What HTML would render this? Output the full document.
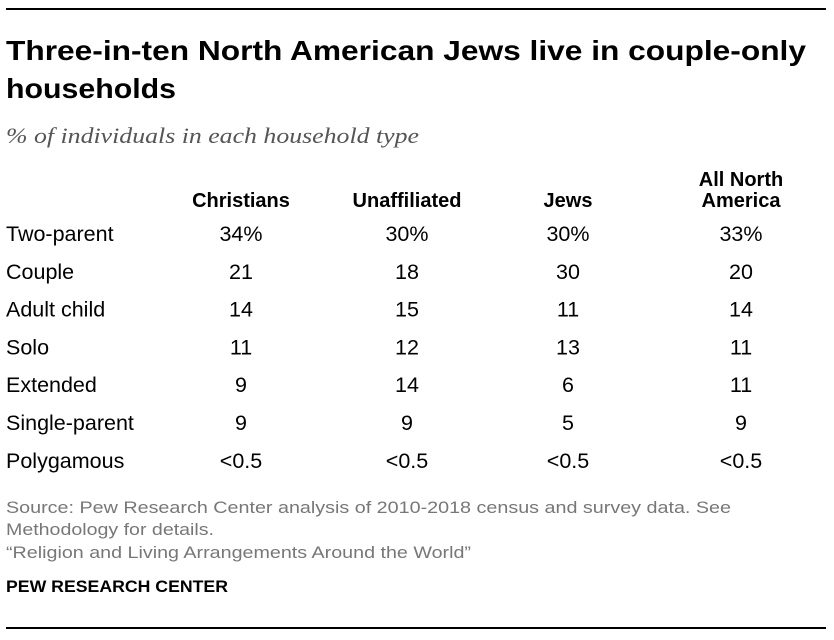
<!DOCTYPE html>
<html><head><meta charset="utf-8"><style>
html,body{margin:0;padding:0;background:#fff;width:834px;height:640px;overflow:hidden}
svg{display:block}
text{font-family:"Liberation Sans",sans-serif}
</style></head><body>
<svg id="chart" width="834" height="640" xmlns="http://www.w3.org/2000/svg">
<line x1="6" y1="9" x2="826" y2="9" stroke="#000" stroke-width="2"/>
<text x="6" y="60" font-size="28" font-weight="bold" fill="#000" textLength="800" lengthAdjust="spacingAndGlyphs">Three-in-ten North American Jews live in couple-only</text>
<text x="6" y="98" font-size="28" font-weight="bold" fill="#000" textLength="170" lengthAdjust="spacingAndGlyphs">households</text>
<text x="6" y="143" font-size="22" font-style="italic" fill="#555" style="font-family:'Liberation Serif',serif" textLength="413" lengthAdjust="spacingAndGlyphs">% of individuals in each household type</text>
<g id="hdr"></g>
<g id="rows"></g>
<text x="6" y="513" font-size="17" fill="#777" textLength="725" lengthAdjust="spacingAndGlyphs">Source: Pew Research Center analysis of 2010-2018 census and survey data. See</text>
<text x="6" y="535" font-size="17" fill="#777" textLength="208" lengthAdjust="spacingAndGlyphs">Methodology for details.</text>
<text x="6" y="558" font-size="17" fill="#777" textLength="465" lengthAdjust="spacingAndGlyphs">“Religion and Living Arrangements Around the World”</text>
<text x="6" y="592" font-size="17" font-weight="bold" fill="#000" textLength="222" lengthAdjust="spacingAndGlyphs">PEW RESEARCH CENTER</text>
<line x1="6" y1="628" x2="826" y2="628" stroke="#000" stroke-width="2"/>
</svg>
<script>
const columns = [["Christians"],["Unaffiliated"],["Jews"],["All North","America"]];
const categories = ["Two-parent","Couple","Adult child","Solo","Extended","Single-parent","Polygamous"];
const christians = ["34%","21","14","11","9","9","<0.5"];
const unaffiliated = ["30%","18","15","12","14","9","<0.5"];
const jews = ["30%","30","11","13","6","5","<0.5"];
const allNorthAmerica = ["33%","20","14","11","11","9","<0.5"];
const series = [christians, unaffiliated, jews, allNorthAmerica];
const NS = "http://www.w3.org/2000/svg";
const colX = i => [241, 407, 568, 741][i];
const rowY = i => 241 + i * 37.8;
function mk(parent, x, y, s, anchor, size, weight){
  const t = document.createElementNS(NS, "text");
  t.setAttribute("x", x); t.setAttribute("y", y);
  t.setAttribute("font-size", size);
  t.setAttribute("text-anchor", anchor);
  if (weight) t.setAttribute("font-weight", weight);
  t.setAttribute("fill", "#000");
  t.textContent = s;
  parent.appendChild(t);
  return t;
}
const hdr = document.getElementById("hdr");
columns.forEach((c, i) => {
  c.forEach((line, j) => {
    const t = mk(hdr, colX(i), 207 - (c.length - 1 - j) * 21, line, "middle", 20, "bold");
    
    
  });
});
const rows = document.getElementById("rows");
categories.forEach((cat, r) => {
  const l = mk(rows, 6, rowY(r), cat, "start", 21.5);
  
  
  series.forEach((s, c) => {
    const v = mk(rows, colX(c), rowY(r), s[r], "middle", 21.5);
    
    
  });
});
</script>
</body></html>
